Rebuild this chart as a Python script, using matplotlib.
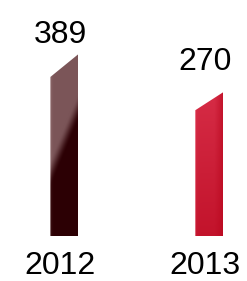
import numpy as np
import matplotlib
matplotlib.use('Agg')
import matplotlib.pyplot as plt
from matplotlib.patches import Polygon
from matplotlib.colors import to_rgb

# dados
anos = ['2012', '2013']
valores = [389, 270]

# cores (claro no topo, escuro embaixo)
cor_clara = ['#7b5558', '#d62c46']
cor_escura = ['#2c0004', '#b8061d']

base = -182          # piso das barras (barras não são proporcionais no original)
corte = 0.125        # queda do topo inclinado, fração da altura
largura = 0.193
desloc = 0.03
folga_px = [11, 22]  # distância do rótulo ao topo da barra

fig = plt.figure(figsize=(2.47, 2.81), dpi=100)
ax = fig.add_axes([0, 0, 1, 1])
ax.set_xlim(-0.414, 1.290)
ax.set_ylim(-321.4, 558.6)
ax.axis('off')

for i, (ano, v) in enumerate(zip(anos, valores)):
    x0 = i + desloc - largura / 2
    x1 = i + desloc + largura / 2
    topo_esq = base + (v - base) * (1 - corte)
    poly = Polygon([(x0, base), (x1, base), (x1, v), (x0, topo_esq)],
                   closed=True, facecolor='none', edgecolor='none')
    ax.add_patch(poly)

    # gradiente
    ny, nx = 200, 40
    u = np.linspace(0, 1, nx)[None, :]
    w = np.linspace(0, 1, ny)[:, None]  # 0 embaixo, 1 no topo
    c1 = np.array(to_rgb(cor_clara[i]))
    c2 = np.array(to_rgb(cor_escura[i]))
    if i == 0:
        s = (w - (0.34 + 0.36 * u)) / 0.16
        t = np.clip(s + 0.5, 0, 1)
        t = t * t * (3 - 2 * t)
    else:
        t = np.clip(0.35 + 0.65 * w, 0, 1) * (1 - 0.6 * np.clip((u - 0.7) / 0.3, 0, 1))
    # leve brilho na borda esquerda
    t = np.clip(t + 0.35 * np.exp(-u / 0.04), 0, 1.3)
    img = np.clip(c2[None, None, :] + (c1 - c2)[None, None, :] * t[:, :, None], 0, 1)
    im = ax.imshow(img, extent=(x0, x1, base, v), origin='lower',
                   aspect='auto', interpolation='bilinear', zorder=2)
    im.set_clip_path(poly)

    ax.annotate(str(v), xy=(i, v), xytext=(0, folga_px[i]),
                textcoords='offset pixels', ha='center', va='baseline',
                fontsize=23, family='Liberation Sans', color='black')
    ax.text(i, 7 / 281, ano, transform=ax.get_xaxis_transform(),
            ha='center', va='baseline', fontsize=23,
            family='Liberation Sans', color='black')

fig.savefig('out.png', dpi=100)
